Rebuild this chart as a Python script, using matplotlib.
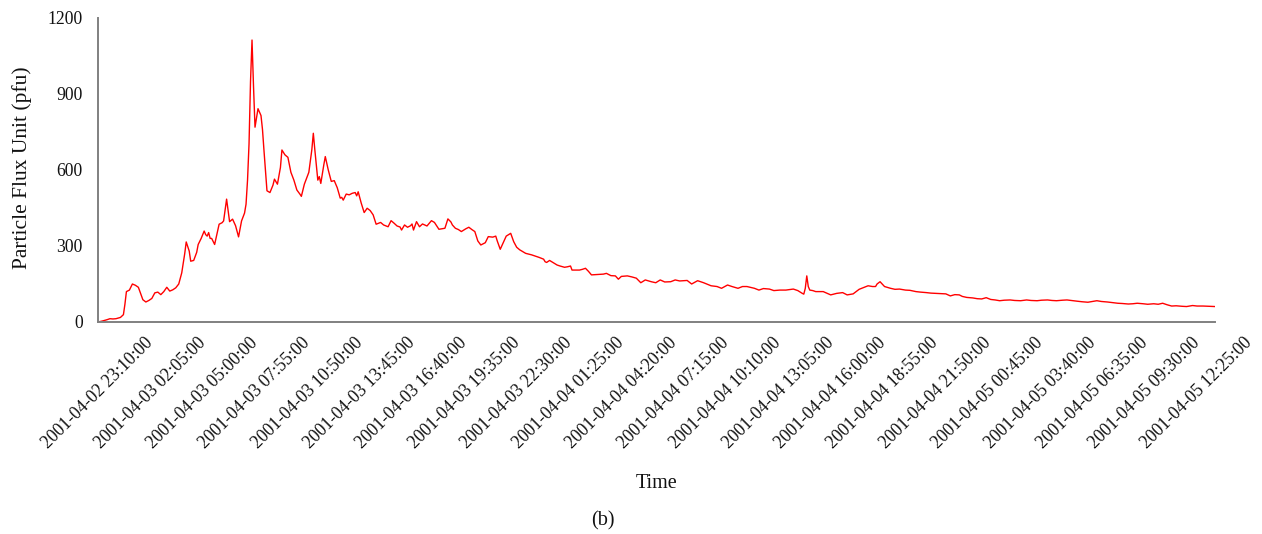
import numpy as np
import matplotlib
matplotlib.use("Agg")
import matplotlib.pyplot as plt

# sample index (5-minute steps from 2001-04-02 23:10:00) and flux in pfu
sample_idx = [
    0, 3, 6, 8, 10, 12, 15, 17, 18, 19, 21, 23, 25, 27, 29, 30, 32, 34, 36, 38,
    40, 42, 44, 46, 48, 50, 52, 54, 56, 58, 59, 61, 62, 64, 66, 67, 69, 71, 72, 73,
    74, 75, 76, 78, 80, 81, 83, 84, 86, 88, 90, 92, 94, 96, 98, 99, 100, 101, 102, 103,
    104, 105, 107, 109, 110, 111, 113, 115, 117, 118, 120, 122, 123, 125, 127, 129, 131, 133, 135, 136,
    138, 141, 143, 144, 145, 147, 148, 149, 151, 152, 154, 156, 158, 160, 162, 163, 164, 166, 168, 170,
    172, 173, 174, 176, 178, 180, 182, 184, 186, 189, 191, 194, 196, 198, 200, 202, 203, 205, 207, 209,
    210, 211, 213, 215, 217, 220, 223, 225, 228, 230, 232, 234, 236, 237, 239, 241, 243, 246, 248, 250,
    252, 254, 256, 259, 261, 264, 266, 267, 269, 271, 273, 276, 278, 280, 282, 284, 286, 288, 290, 292,
    295, 298, 299, 300, 302, 305, 307, 309, 312, 314, 316, 317, 322, 324, 326, 328, 330, 333, 335, 338,
    340, 343, 346, 348, 350, 354, 357, 360, 363, 366, 370, 373, 376, 379, 383, 386, 389, 392, 394, 397,
    401, 405, 408, 410, 414, 417, 421, 424, 428, 431, 434, 439, 442, 445, 449, 452, 456, 460, 465, 468,
    471, 472, 473, 474, 475, 476, 478, 480, 485, 490, 494, 498, 501, 505, 509, 512, 515, 518, 520, 521,
    523, 525, 526, 530, 533, 536, 540, 543, 547, 550, 554, 557, 560, 564, 567, 570, 573, 576, 578, 581,
    585, 588, 591, 594, 597, 600, 603, 606, 610, 613, 617, 621, 624, 628, 631, 635, 638, 641, 645, 648,
    652, 655, 658, 662, 665, 668, 671, 675, 678, 682, 685, 689, 692, 695, 699, 702, 706, 709, 712, 715,
    718, 721, 725, 728, 732, 735, 739, 743, 747,
]
flux = [
    0, 4, 9, 13, 12, 13, 18, 29, 70, 120, 126, 150, 145, 137, 105, 88, 79, 85, 93, 115,
    118, 108, 120, 137, 122, 127, 135, 150, 194, 270, 316, 280, 240, 243, 275, 306, 330, 359, 345, 339,
    353, 330, 330, 306, 360, 386, 392, 399, 485, 396, 406, 380, 336, 399, 430, 465, 560, 703, 950, 1113,
    930, 769, 842, 815, 760, 677, 518, 511, 540, 564, 544, 610, 679, 660, 650, 591, 560, 521, 505, 496,
    544, 591, 680, 745, 680, 560, 574, 547, 620, 653, 600, 555, 558, 530, 489, 492, 481, 505, 502, 508,
    511, 498, 514, 470, 432, 449, 440, 423, 386, 393, 383, 376, 400, 390, 379, 375, 363, 383, 374, 380,
    387, 363, 396, 376, 387, 379, 400, 393, 366, 368, 370, 407, 395, 383, 370, 365, 357, 368, 374, 365,
    357, 320, 304, 313, 337, 335, 339, 320, 287, 313, 339, 350, 317, 295, 285, 278, 271, 268, 265, 261,
    255, 248, 238, 235, 243, 232, 225, 221, 216, 218, 221, 205, 205, 208, 212, 200, 186, 187, 188, 189,
    192, 183, 182, 169, 180, 182, 178, 173, 155, 166, 159, 155, 166, 158, 159, 166, 162, 163, 164, 150,
    163, 155, 148, 143, 140, 133, 146, 140, 133, 140, 140, 133, 126, 132, 130, 124, 126, 126, 130, 124,
    113, 110, 133, 182, 140, 126, 124, 120, 120, 107, 113, 116, 107, 111, 129, 136, 143, 140, 140, 150,
    159, 146, 140, 133, 129, 130, 126, 125, 120, 118, 116, 114, 113, 112, 111, 103, 108, 107, 101, 97,
    95, 92, 91, 96, 89, 87, 84, 86, 87, 85, 84, 87, 85, 84, 86, 87, 85, 84, 86, 87,
    84, 82, 80, 78, 81, 84, 81, 79, 77, 74, 73, 71, 72, 74, 72, 70, 72, 70, 74, 68,
    63, 64, 62, 61, 65, 63, 63, 62, 61,
]

tick_labels = [
    "2001-04-02 23:10:00", "2001-04-03 02:05:00", "2001-04-03 05:00:00",
    "2001-04-03 07:55:00", "2001-04-03 10:50:00", "2001-04-03 13:45:00",
    "2001-04-03 16:40:00", "2001-04-03 19:35:00", "2001-04-03 22:30:00",
    "2001-04-04 01:25:00", "2001-04-04 04:20:00", "2001-04-04 07:15:00",
    "2001-04-04 10:10:00", "2001-04-04 13:05:00", "2001-04-04 16:00:00",
    "2001-04-04 18:55:00", "2001-04-04 21:50:00", "2001-04-05 00:45:00",
    "2001-04-05 03:40:00", "2001-04-05 06:35:00", "2001-04-05 09:30:00",
    "2001-04-05 12:25:00",
]
label_step = 35  # one label every 35 samples (2h55m)

plt.rcParams['font.family'] = ['Liberation Serif', 'DejaVu Serif']

fig = plt.figure(figsize=(12.62, 5.34), dpi=100)
ax = fig.add_axes([98 / 1262, 1 - 322 / 534, 1117 / 1262, 304 / 534])

ax.plot(sample_idx, flux, color='#ff0000', linewidth=1.0)

ax.set_xlim(0, 747)
ax.set_ylim(0, 1200)
ax.set_yticks(np.arange(0, 1201, 300))
ax.set_xticks(np.arange(len(tick_labels)) * label_step)
ax.set_xticklabels(tick_labels, rotation=45, ha='center', va='top')

ax.tick_params(axis='both', length=0, labelsize=12.7, colors='#111111')
ax.tick_params(axis='x', pad=9)
ax.tick_params(axis='y', pad=11)

for side in ['top', 'right']:
    ax.spines[side].set_visible(False)
for side in ['left', 'bottom']:
    ax.spines[side].set_color('#808080')
    ax.spines[side].set_linewidth(1.4)

fig.text(22 / 1262, 1 - 168 / 534, 'Particle Flux Unit (pfu)', rotation=90,
         ha='center', va='center', fontsize=15.5, color='#111111')
fig.text(657 / 1262, 1 - 484 / 534, 'Time', ha='center', va='center',
         fontsize=14.5, color='#111111')
fig.text(603 / 1262, 1 - 521 / 534, '(b)', ha='center', va='center',
         fontsize=14.5, color='#111111')

fig.savefig('out.png', dpi=100)
